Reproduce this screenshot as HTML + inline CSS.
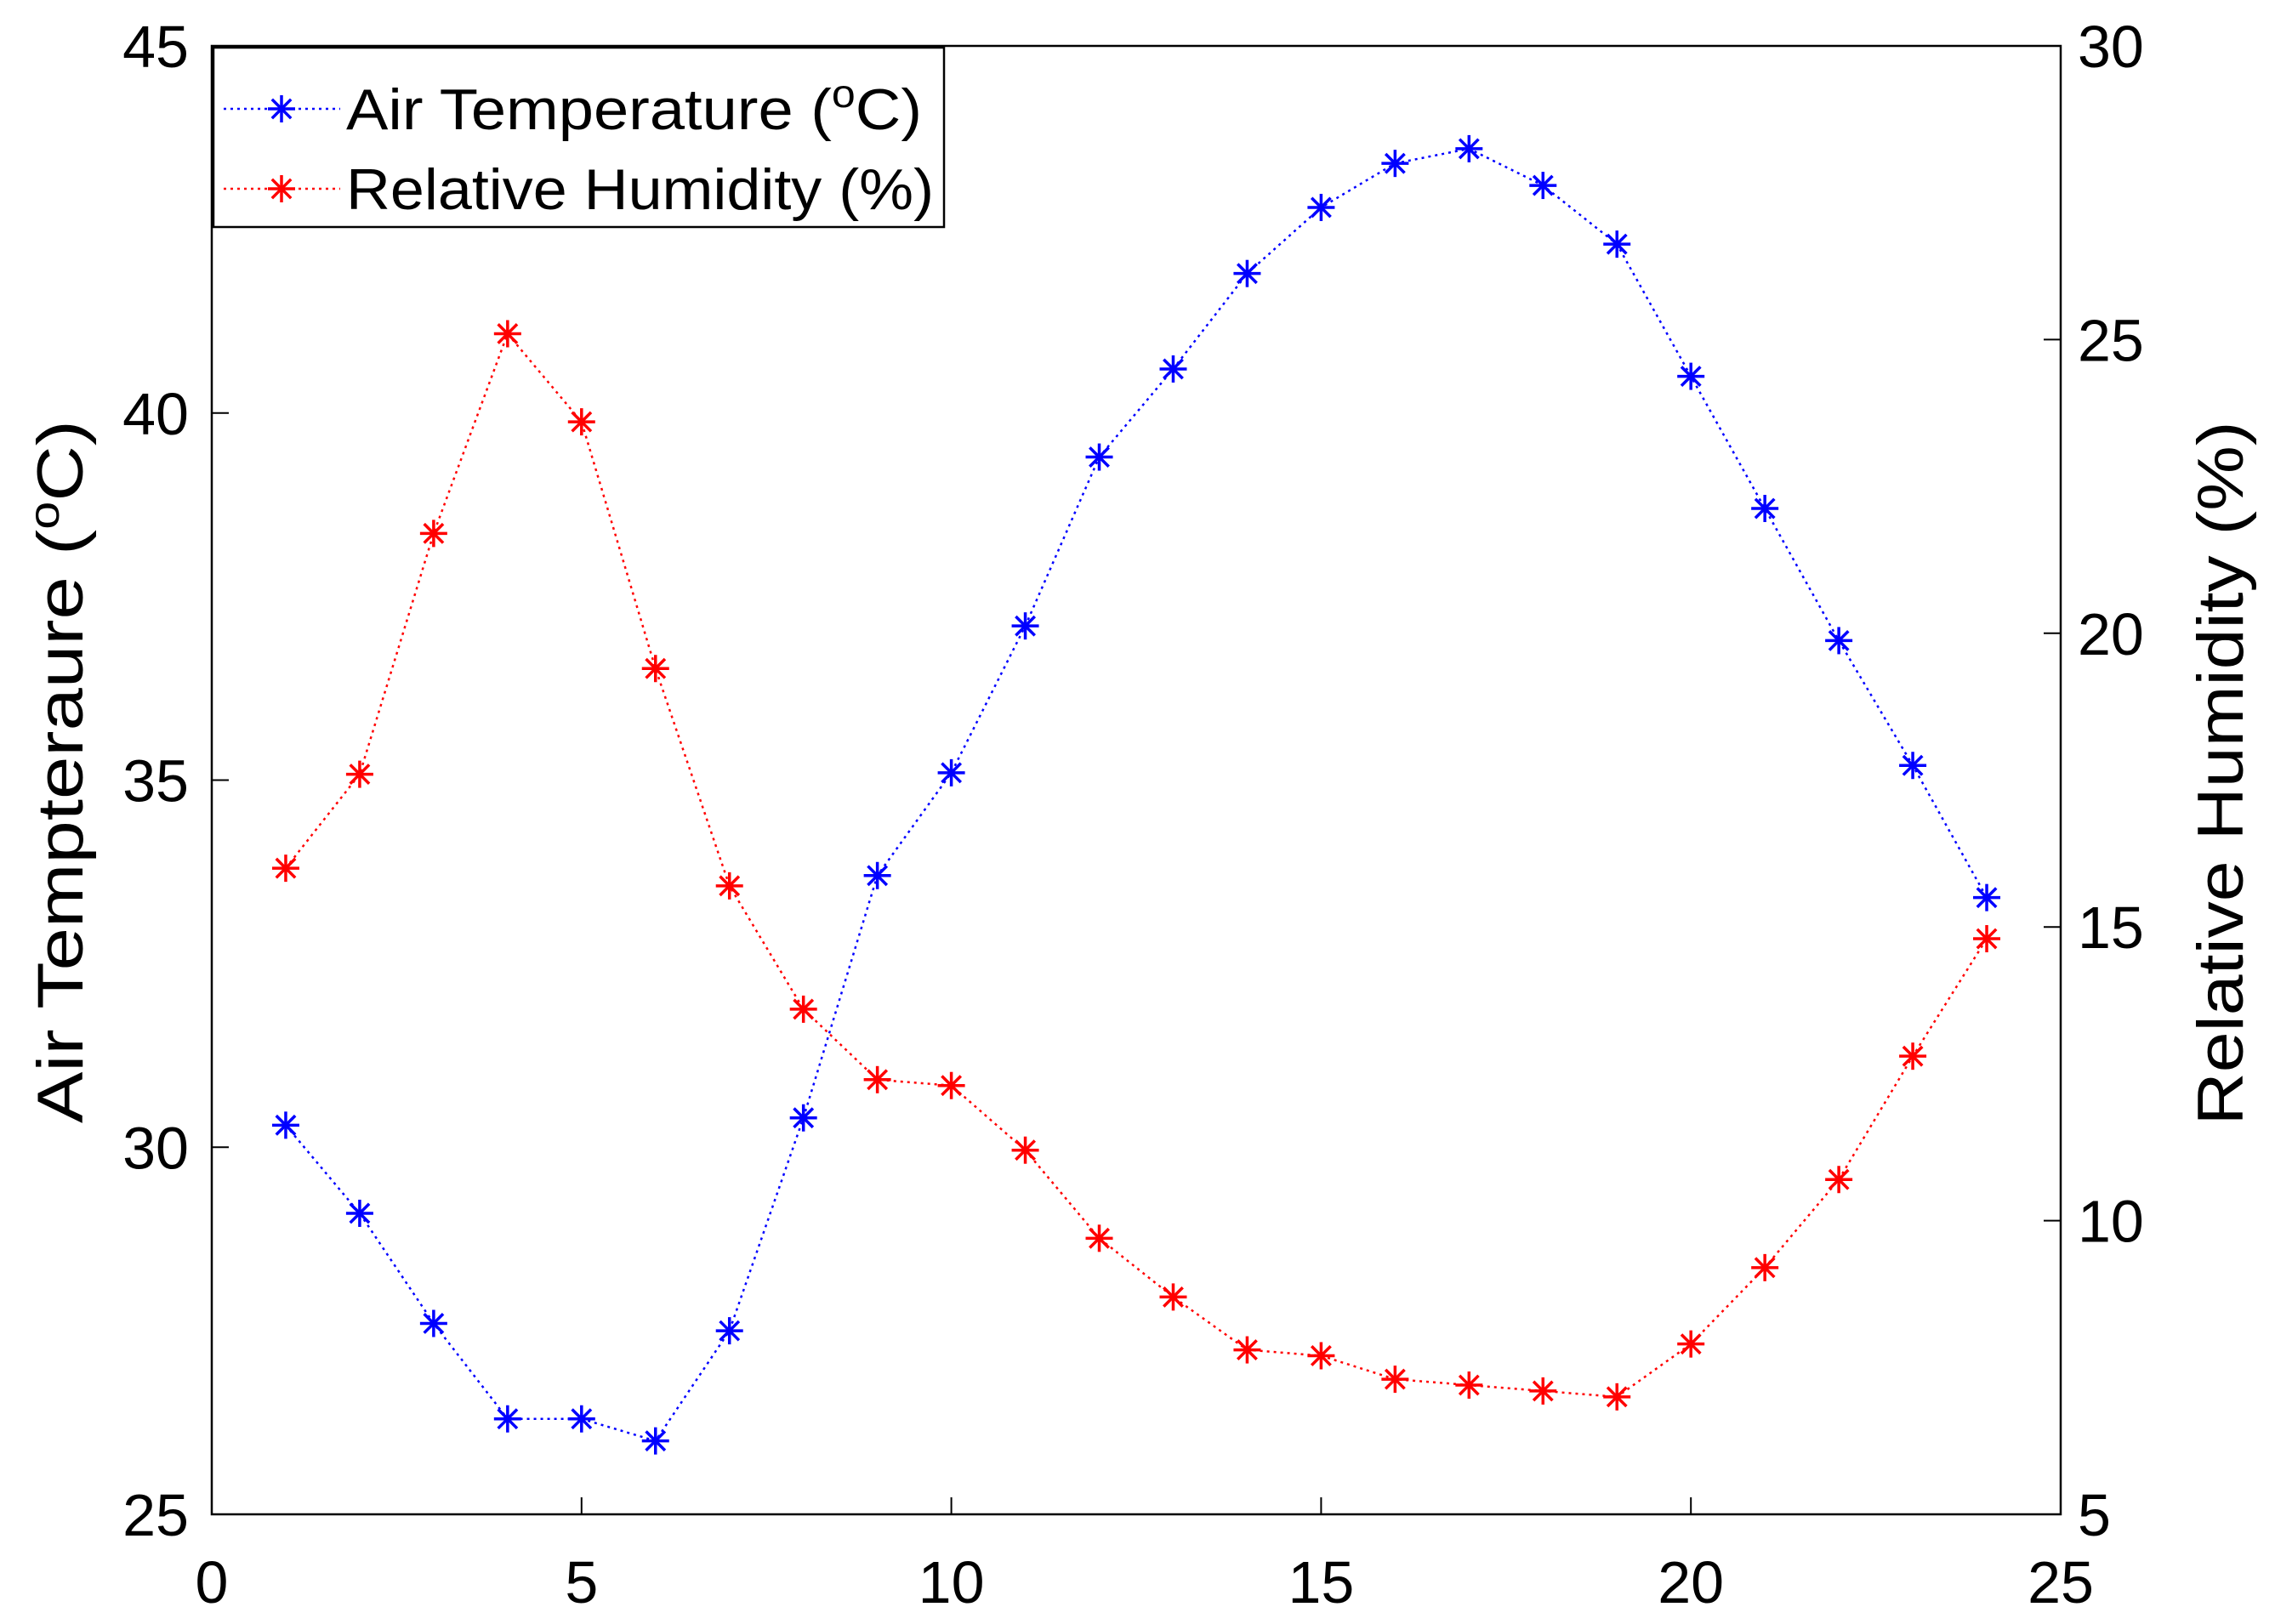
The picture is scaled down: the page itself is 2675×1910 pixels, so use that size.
<!DOCTYPE html>
<html><head><meta charset="utf-8"><style>
html,body{margin:0;padding:0;background:#fff}
svg text{font-family:"Liberation Sans",sans-serif;fill:#000}
</style></head><body>
<svg id="chart" width="2675" height="1905" xmlns="http://www.w3.org/2000/svg">
<g id="marks"></g>
</svg>
<script>
const hours=[1,2,3,4,5,6,7,8,9,10,11,12,13,14,15,16,17,18,19,20,21,22,23,24];
const tempValues=[30.3,29.1,27.6,26.3,26.3,26.0,27.5,30.4,33.7,35.1,37.1,39.4,40.6,41.9,42.8,43.4,43.6,43.1,42.3,40.5,38.7,36.9,35.2,33.4];
const humidityValues=[16.0,17.6,21.7,25.1,23.6,19.4,15.7,13.6,12.4,12.3,11.2,9.7,8.7,7.8,7.7,7.3,7.2,7.1,7.0,7.9,9.2,10.7,12.8,14.8];
const xTicks=[0,5,10,15,20,25];
const yLeftTicks=[25,30,35,40,45];
const yRightTicks=[5,10,15,20,25,30];

const L=249,R=2423,T=54,B=1781;
const NS="http://www.w3.org/2000/svg";
const svg=document.getElementById('chart');
const xs=v=>L+(v-0)/25*(R-L);
const yl=v=>B-(v-25)/20*(B-T);
const yr=v=>B-(v-5)/25*(B-T);
function mk(tag,attrs,parent){const e=document.createElementNS(NS,tag);for(const k in attrs)e.setAttribute(k,attrs[k]);(parent||svg).appendChild(e);return e;}

let box=mk('rect',{x:L,y:T,width:R-L,height:B-T,fill:'none',stroke:'#000','stroke-width':2.5});



xTicks.forEach(v=>{
  let t=mk('line',{x1:xs(v),x2:xs(v),y1:B,y2:B-20,stroke:'#000','stroke-width':2});
  
  
  let tx=mk('text',{x:xs(v),y:1885,'font-size':70,'text-anchor':'middle'});tx.textContent=v;
  
  
});
yLeftTicks.forEach(v=>{
  let t=mk('line',{x1:L,x2:L+20,y1:yl(v),y2:yl(v),stroke:'#000','stroke-width':2});
  
  
  let tx=mk('text',{x:222,y:yl(v)+25,'font-size':70,'text-anchor':'end'});tx.textContent=v;
  
  
});
yRightTicks.forEach(v=>{
  let t=mk('line',{x1:R,x2:R-20,y1:yr(v),y2:yr(v),stroke:'#000','stroke-width':2});
  
  
  let tx=mk('text',{x:2443,y:yr(v)+25,'font-size':70,'text-anchor':'start'});tx.textContent=v;
  
  
});

let yt=mk('text',{x:0,y:0,'font-size':76,'text-anchor':'middle',textLength:827,lengthAdjust:'spacingAndGlyphs',transform:'translate(97,'+((T+B)/2-10)+') rotate(-90)'});
yt.innerHTML='Air Tempteraure (<tspan baseline-shift="super" font-size="50">o</tspan>C)';


let yt2=mk('text',{x:0,y:0,'font-size':76,'text-anchor':'middle',textLength:828,lengthAdjust:'spacingAndGlyphs',transform:'translate(2637,'+((T+B)/2-8)+') rotate(-90)'});
yt2.textContent='Relative Humidity (%)';



function star(cx,cy,color,name){
  const g=mk('g',{stroke:color,'stroke-width':3.5});
  
  
  const r=16;
  mk('line',{x1:cx-r,x2:cx+r,y1:cy,y2:cy},g);
  mk('line',{x1:cx,x2:cx,y1:cy-r,y2:cy+r},g);
  mk('line',{x1:cx-r*0.7,x2:cx+r*0.7,y1:cy-r*0.7,y2:cy+r*0.7},g);
  mk('line',{x1:cx-r*0.7,x2:cx+r*0.7,y1:cy+r*0.7,y2:cy-r*0.7},g);
}
function series(vals,ys,color,name){
  const pts=hours.map((h,i)=>xs(h)+','+ys(vals[i])).join(' ');
  let pl=mk('polyline',{points:pts,fill:'none',stroke:color,'stroke-width':2.5,'stroke-dasharray':'3 5'});
  
  
  hours.forEach((h,i)=>star(xs(h),ys(vals[i]),color,name+'-point'));
}
series(tempValues,yl,'#0000ff','air-temperature');
series(humidityValues,yr,'#ff0000','relative-humidity');

const lg=mk('g',{});


let lb=mk('rect',{x:251,y:56,width:859,height:211,fill:'#fff',stroke:'#000','stroke-width':2.5},lg);


[['#0000ff','Air Temperature (<tspan baseline-shift="super" font-size="46">o</tspan>C)',128,'legend-entry-temperature',677],
 ['#ff0000','Relative Humidity (%)',222,'legend-entry-humidity',691]].forEach(([c,t,y,n,w])=>{
  let ln=mk('line',{x1:263,x2:400,y1:y,y2:y,stroke:c,'stroke-width':2.5,'stroke-dasharray':'3 5'},lg);
  
  
  star(331,y,c,n+'-marker');
  let tx=mk('text',{x:407,y:y+24,'font-size':68,textLength:w,lengthAdjust:'spacingAndGlyphs'},lg);tx.innerHTML=t;
  
  
});
</script>
</body></html>
